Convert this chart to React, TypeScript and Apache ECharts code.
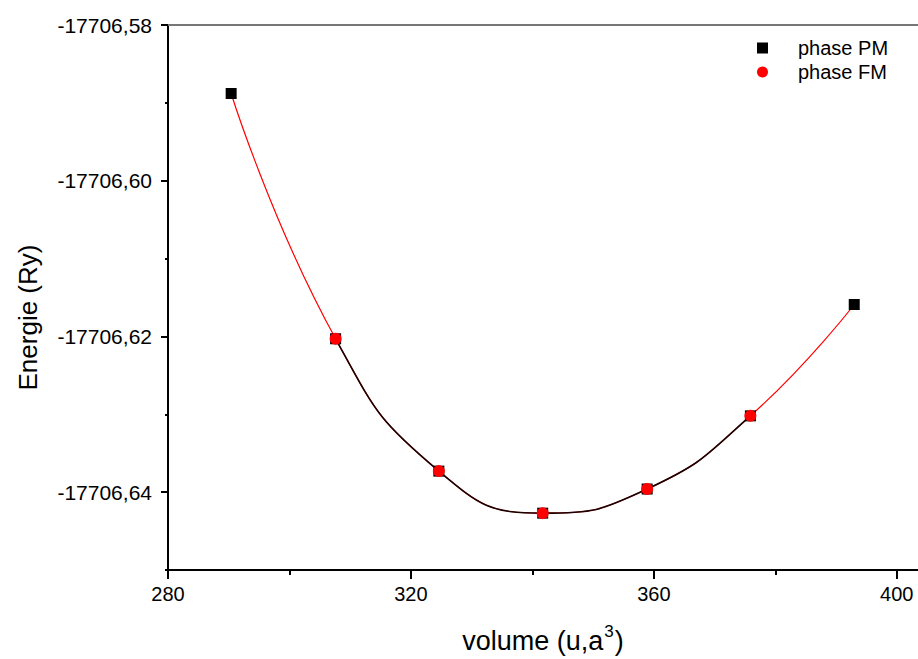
import React, { useEffect, useRef } from "react";
import * as echarts from "echarts";

const volumesPM = [290.4, 307.6, 324.6, 341.7, 358.9, 375.9, 393.0];
const energyPM = [-17706.5888, -17706.6203, -17706.6373, -17706.6427, -17706.6396, -17706.6302, -17706.6159];
const volumesFM = [307.6, 324.6, 341.7, 358.9, 375.9];
const energyFM = [-17706.6203, -17706.6373, -17706.6427, -17706.6396, -17706.6302];

const xMajorTicks = [280, 320, 360, 400];
const xMinorTicks = [300, 340, 380];
const yMajorTicks = [-17706.64, -17706.62, -17706.6, -17706.58];
const yMinorTicks = [-17706.65, -17706.63, -17706.61, -17706.59];

const X_MIN = 280;
const X_MAX = 403.5;
const Y_MIN = -17706.65;
const Y_MAX = -17706.58;

const FONT = "'Liberation Sans', Arial, sans-serif";

export default function App() {
  const ref = useRef<HTMLDivElement>(null);
  useEffect(() => {
    if (!ref.current) return;
    const chart = echarts.init(ref.current, null, { renderer: "svg" });
    const pm = volumesPM.map((v, i) => [v, energyPM[i]]);
    const fm = volumesFM.map((v, i) => [v, energyFM[i]]);
    const axisBase = { type: "value", min: X_MIN, max: X_MAX, splitLine: { show: false } };
    const yBase = { type: "value", min: Y_MIN, max: Y_MAX, scale: true, splitLine: { show: false } };
    chart.setOption({
      animation: false,
      backgroundColor: "#ffffff",
      textStyle: { fontFamily: FONT },
      grid: { left: 168, top: 25, right: 0, bottom: 87, containLabel: false },
      legend: {
        orient: "vertical",
        left: 752,
        top: 33,
        itemWidth: 11,
        itemHeight: 11,
        itemGap: 4,
        textStyle: { fontSize: 20, color: "#000", fontFamily: FONT, padding: [0, 0, 0, 25], lineHeight: 20 },
        data: [
          { name: "phase PM", icon: "rect" },
          { name: "phase FM", icon: "circle" },
        ],
      },
      visualMap: {
        type: "piecewise",
        show: false,
        dimension: 0,
        seriesIndex: 1,
        pieces: [{ gte: volumesFM[0], lte: volumesFM[volumesFM.length - 1], color: "#1a0000" }],
        outOfRange: { color: "rgba(0,0,0,0)" },
      },
      xAxis: [
        {
          ...axisBase,
          position: "bottom",
          axisLine: { show: true, lineStyle: { color: "#000", width: 2 } },
          axisTick: { show: true, customValues: xMajorTicks, length: 9, lineStyle: { color: "#000", width: 2 } },
          axisLabel: { customValues: xMajorTicks, fontSize: 20, color: "#000", margin: 14, fontFamily: FONT },
          name: "{t|volume (u,a}{s|3}{t|)}",
          nameLocation: "middle",
          nameGap: 53,
          nameTextStyle: {
            rich: {
              t: { fontSize: 27, color: "#000", fontFamily: FONT },
              s: { fontSize: 17, color: "#000", fontFamily: FONT, verticalAlign: "top", padding: [0, 1, 18, 1] },
            },
          },
        },
        {
          ...axisBase,
          position: "bottom",
          offset: 0,
          axisLine: { show: false },
          axisTick: { show: true, customValues: xMinorTicks, length: 5, lineStyle: { color: "#000", width: 2 } },
          axisLabel: { show: false },
        },
        {
          ...axisBase,
          position: "top",
          axisLine: { show: true, lineStyle: { color: "#777", width: 2 } },
          axisTick: { show: false },
          axisLabel: { show: false },
        },
      ],
      yAxis: [
        {
          ...yBase,
          position: "left",
          axisLine: { show: true, lineStyle: { color: "#000", width: 2 } },
          axisTick: { show: true, customValues: yMajorTicks, length: 7, lineStyle: { color: "#000", width: 2 } },
          axisLabel: {
            customValues: yMajorTicks,
            fontSize: 21,
            color: "#000",
            margin: 16,
            fontFamily: FONT,
            formatter: (v: number) => v.toFixed(2).replace(".", ","),
          },
          name: "Energie (Ry)",
          nameLocation: "middle",
          nameGap: 127,
          nameTextStyle: { fontSize: 26, color: "#000", fontFamily: FONT, padding: [0, 40, 0, 0] },
        },
        {
          ...yBase,
          position: "left",
          offset: 0,
          axisLine: { show: false },
          axisTick: { show: true, customValues: yMinorTicks, length: 3, lineStyle: { color: "#000", width: 2 } },
          axisLabel: { show: false },
        },
      ],
      series: [
        {
          name: "fit PM",
          type: "line",
          data: pm,
          smooth: 0.5,
          showSymbol: false,
          symbol: "none",
          lineStyle: { color: "#ff0000", width: 1.2 },
          z: 2,
        },
        {
          name: "fit FM",
          type: "line",
          data: pm,
          smooth: 0.5,
          showSymbol: false,
          symbol: "none",
          lineStyle: { width: 1.6 },
          z: 3,
        },
        {
          name: "phase PM",
          type: "scatter",
          data: pm,
          symbol: "rect",
          symbolSize: 11,
          itemStyle: { color: "#000000", opacity: 1 },
          z: 4,
        },
        {
          name: "phase FM",
          type: "scatter",
          data: fm,
          symbol: "circle",
          symbolSize: 12,
          itemStyle: { color: "#ff0000", opacity: 1 },
          z: 5,
        },
      ],
    });
    return () => chart.dispose();
  }, []);
  return (
    <div
      ref={ref}
      style={{ position: "fixed", left: 0, top: 0, width: 918, height: 659, background: "#fff" }}
    />
  );
}
